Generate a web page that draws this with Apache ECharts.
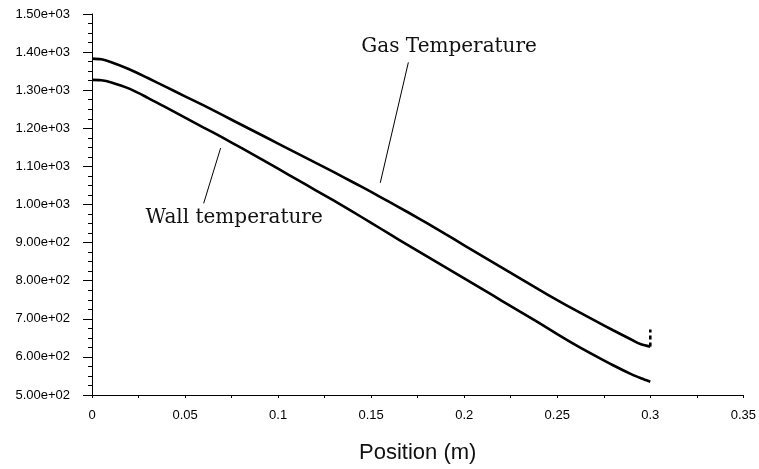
<!DOCTYPE html>
<html>
<head>
<meta charset="utf-8">
<script src="https://cdn.jsdelivr.net/npm/echarts@6/dist/echarts.min.js"></script>
<style>
  html, body { margin: 0; padding: 0; background: #fff; }
  #chart { width: 759px; height: 469px; }
</style>
</head>
<body>
<div id="chart"></div>
<script>
// Axial position along the duct (m)
const positions = [0, 0.005, 0.01, 0.02, 0.03, 0.04, 0.05, 0.06, 0.07, 0.08, 0.09,
  0.10, 0.11, 0.12, 0.13, 0.14, 0.15, 0.16, 0.17, 0.18, 0.19, 0.20, 0.21, 0.22,
  0.23, 0.24, 0.25, 0.26, 0.27, 0.28, 0.29, 0.295, 0.30];

// Gas temperature (K)
const gasTemp = [1383, 1381, 1374, 1355, 1332, 1308, 1284, 1260, 1235, 1210, 1185,
  1160, 1135, 1110, 1085, 1059, 1033, 1006, 979, 951, 922, 893, 864, 835,
  806, 777, 749, 722, 696, 670, 645, 633, 627];

// Wall temperature (K)
const wallTemp = [1327, 1326, 1321, 1304, 1280, 1254, 1228, 1202, 1176, 1149, 1122,
  1094, 1066, 1038, 1010, 981, 952, 922, 893, 864, 835, 806, 777, 748,
  719, 690, 660, 631, 604, 578, 554, 544, 535];

// Outlet value marker on the gas curve
const gasOutletX = [0.30, 0.30];
const gasOutletY = [627, 672];

// Tick labels
const xTickLabels = ['0', '0.05', '0.1', '0.15', '0.2', '0.25', '0.3', '0.35'];
const yTickLabels = ['5.00e+02', '6.00e+02', '7.00e+02', '8.00e+02', '9.00e+02', '1.00e+03',
  '1.10e+03', '1.20e+03', '1.30e+03', '1.40e+03', '1.50e+03'];

// Curve annotations: label anchor and leader line (data coordinates)
const gasLabel = { text: 'Gas Temperature', at: [0.1919, 1415], leader: [[0.1700, 1373], [0.1549, 1057]] };
const wallLabel = { text: 'Wall temperature', at: [0.0764, 964], leader: [[0.0691, 1148], [0.0600, 1003]] };

const pair = (xs, ys) => xs.map((x, i) => [x, ys[i]]);

const labelFont = {
  fontFamily: '"DejaVu Serif", serif',
  fontSize: 20,
  color: '#111'
};

function annotation(a) {
  return {
    markLine: {
      silent: true,
      symbol: ['none', 'none'],
      animation: false,
      label: { show: false },
      lineStyle: { color: '#000', width: 1, type: 'solid' },
      data: [[{ coord: a.leader[0] }, { coord: a.leader[1] }]]
    },
    markPoint: {
      silent: true,
      animation: false,
      symbol: 'circle',
      symbolSize: 1,
      itemStyle: { color: 'rgba(0,0,0,0)' },
      label: Object.assign({ show: true, position: 'inside', formatter: a.text }, labelFont),
      data: [{ coord: a.at }]
    }
  };
}

const chart = echarts.init(document.getElementById('chart'), null, { renderer: 'canvas' });

chart.setOption({
  animation: false,
  backgroundColor: '#fff',
  grid: { left: 92, right: 14, top: 14, bottom: 69, containLabel: false },
  xAxis: {
    type: 'value',
    min: 0, max: 0.35, interval: 0.05,
    name: 'Position (m)',
    nameLocation: 'middle',
    nameGap: 47,
    nameTextStyle: { fontFamily: '"Liberation Sans", Arial, sans-serif', fontSize: 22, color: '#111' },
    axisLine: { show: true, onZero: false, lineStyle: { color: '#000', width: 1 } },
    axisTick: { show: true, inside: false, length: 3, lineStyle: { color: '#000' } },
    minorTick: { show: true, splitNumber: 2, length: 3, lineStyle: { color: '#000' } },
    splitLine: { show: false },
    axisLabel: {
      margin: 14,
      fontFamily: '"Liberation Sans", Arial, sans-serif',
      fontSize: 13,
      color: '#000',
      formatter: (v) => xTickLabels[Math.round(v / 0.05)]
    }
  },
  yAxis: {
    type: 'value',
    min: 500, max: 1500, interval: 100,
    axisLine: { show: true, onZero: false, lineStyle: { color: '#000', width: 1 } },
    axisTick: { show: true, inside: false, length: 9, lineStyle: { color: '#000' } },
    minorTick: { show: true, splitNumber: 4, length: 4, lineStyle: { color: '#000' } },
    splitLine: { show: false },
    axisLabel: {
      margin: 22,
      fontFamily: '"Liberation Sans", Arial, sans-serif',
      fontSize: 13,
      color: '#000',
      formatter: (v) => yTickLabels[Math.round((v - 500) / 100)]
    }
  },
  series: [
    Object.assign({
      name: 'Gas Temperature',
      type: 'line',
      data: pair(positions, gasTemp),
      smooth: 0.3,
      showSymbol: false,
      lineStyle: { color: '#000', width: 2.6 },
      z: 3
    }, annotation(gasLabel)),
    Object.assign({
      name: 'Wall temperature',
      type: 'line',
      data: pair(positions, wallTemp),
      smooth: 0.3,
      showSymbol: false,
      lineStyle: { color: '#000', width: 2.6 },
      z: 3
    }, annotation(wallLabel)),
    {
      name: 'Gas outlet',
      type: 'line',
      data: pair(gasOutletX, gasOutletY),
      showSymbol: false,
      lineStyle: { color: '#000', width: 2.6, type: [4, 3] },
      z: 3
    }
  ]
});
</script>
</body>
</html>
